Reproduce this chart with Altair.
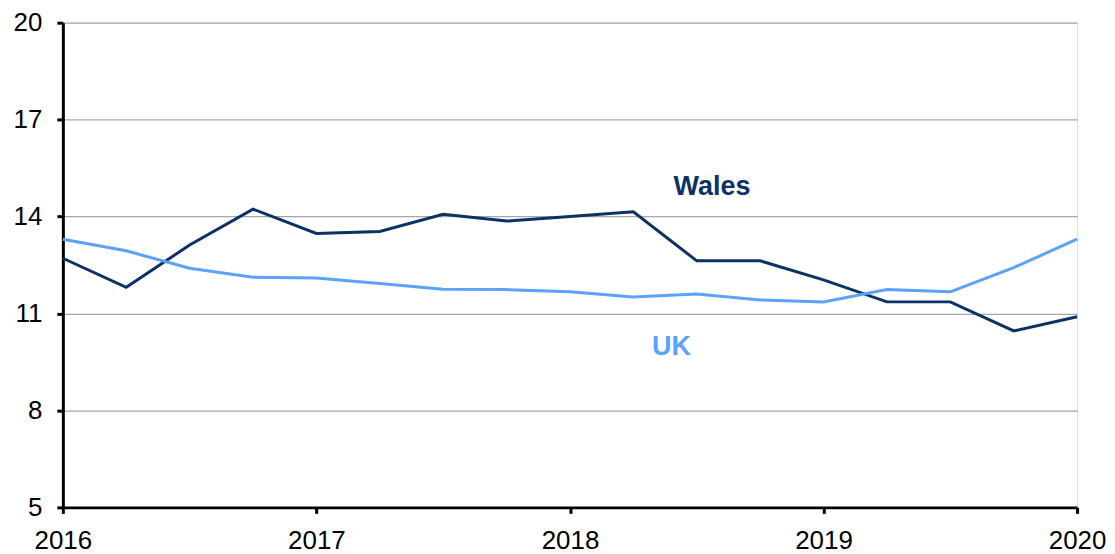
import altair as alt
import pandas as pd

quarters = [2016 + 0.25 * i for i in range(17)]
wales = [12.71, 11.81, 13.12, 14.23, 13.48, 13.54, 14.07, 13.86, 14.00, 14.15,
         12.63, 12.63, 12.04, 11.36, 11.36, 10.46, 10.90]
uk = [13.30, 12.94, 12.40, 12.12, 12.10, 11.93, 11.75, 11.74, 11.67, 11.51,
      11.60, 11.42, 11.36, 11.74, 11.67, 12.42, 13.30]
series_names = ["Wales", "UK"]
colors = ["#0B3166", "#5AA2FA"]
x_ticks = [2016, 2017, 2018, 2019, 2020]
y_ticks = [5, 8, 11, 14, 17, 20]
label_text = ["Wales", "UK"]
label_x = [2018.56, 2018.40]
label_y = [14.91, 9.97]

rows = []
for name, vals in zip(series_names, [wales, uk]):
    for q, v in zip(quarters, vals):
        rows.append({"t": q, "v": v, "series": name})
df = pd.DataFrame(rows)
lab = pd.DataFrame({"t": label_x, "v": label_y, "series": label_text})

FONT = "Liberation Sans"
xs = alt.Scale(domain=[2016, 2020], nice=False, zero=False)
ys = alt.Scale(domain=[5, 20], nice=False, zero=False)
cs = alt.Scale(domain=series_names, range=colors)

lines = alt.Chart(df).mark_line(strokeWidth=3).encode(
    x=alt.X("t:Q", scale=xs, title=None,
            axis=alt.Axis(values=x_ticks, format="d", grid=False,
                          domainColor="black", domainWidth=3,
                          tickColor="black", tickWidth=3, tickSize=6,
                          labelFont=FONT, labelFontSize=26, labelColor="black",
                          labelPadding=14, labelFlush=False)),
    y=alt.Y("v:Q", scale=ys, title=None,
            axis=alt.Axis(values=y_ticks, grid=True, gridColor="#A6A6A6",
                          gridWidth=1.2,
                          domainColor="black", domainWidth=3,
                          tickColor="black", tickWidth=3, tickSize=6,
                          labelFont=FONT, labelFontSize=26, labelColor="black",
                          labelPadding=15)),
    color=alt.Color("series:N", scale=cs, legend=None),
    order="t:Q",
)

texts = alt.Chart(lab).mark_text(font=FONT, fontSize=27, fontWeight="bold",
                                 align="center", baseline="middle").encode(
    x=alt.X("t:Q", scale=xs),
    y=alt.Y("v:Q", scale=ys),
    text="series:N",
    color=alt.Color("series:N", scale=cs, legend=None),
)

chart = alt.layer(lines, texts).properties(
    width=1017, height=486,
    autosize=alt.AutoSizeParams(type="none"),
    padding={"left": 55, "top": 14, "right": 30, "bottom": 44},
).configure_view(stroke=None).configure(background="white")

chart.save("out.html", embed_options={"renderer": "svg", "actions": False})
